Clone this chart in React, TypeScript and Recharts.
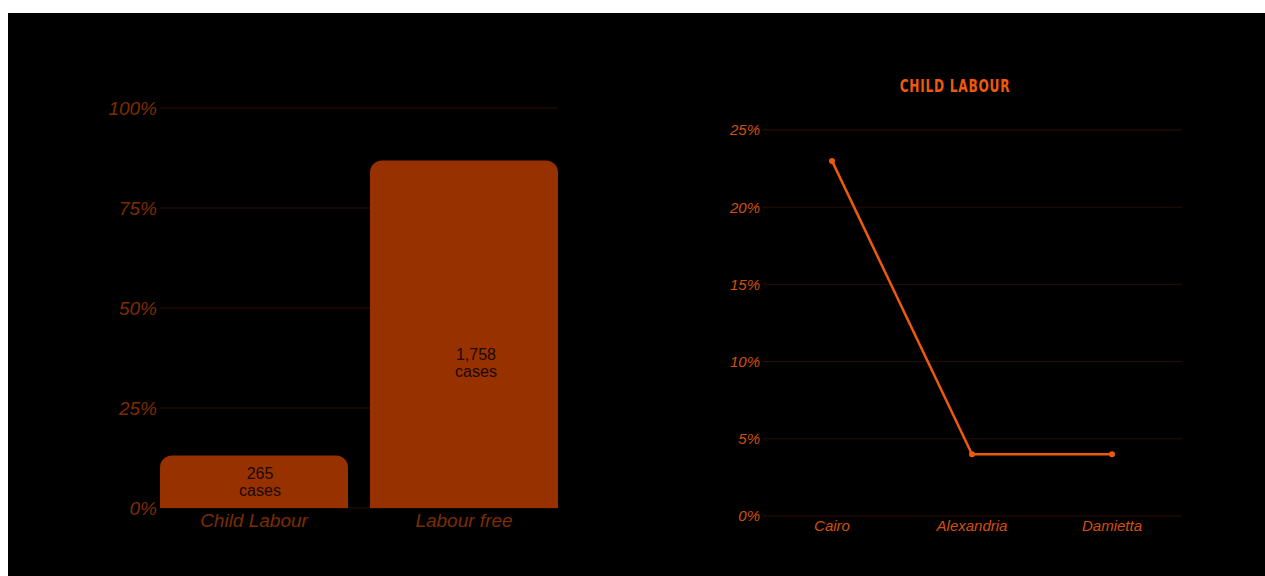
import { BarChart, Bar, ComposedChart, Line, XAxis, YAxis, CartesianGrid, LabelList } from 'recharts';

const labourCategories = ['Child Labour', 'Labour free'];
const labourCases = [265, 1758];
const shareTicks = [0, 25, 50, 75, 100];

const cities = ['Cairo', 'Alexandria', 'Damietta'];
const childLabourRate = [23, 4, 4];
const rateTicks = [0, 5, 10, 15, 20, 25];

const totalCases = labourCases.reduce((a, b) => a + b, 0);
const barData = labourCategories.map((name, i) => ({
  name,
  cases: labourCases[i],
  share: (labourCases[i] / totalCases) * 100,
}));
const lineData = cities.map((city, i) => ({ city, rate: childLabourRate[i] }));

const BAR_FILL = '#973200';
const LEFT_TEXT = '#7d2c00';
const ORANGE = '#ee5a0a';
const RIGHT_TEXT = '#d24f0c';
const SANS = "'Liberation Sans', Arial, sans-serif";

// shortened grid lines so they line up with the bar edges
function TrimmedGridLine(props: any) {
  return (
    <line
      key={props.key}
      x1={props.x1 + 11}
      x2={props.x2 - 11}
      y1={props.y1}
      y2={props.y2}
      stroke="#2a0e02"
      strokeWidth={1}
    />
  );
}

function CasesLabel(props: any) {
  const { x, y, width, height, value, index } = props;
  const cy = y + height - Math.min(height / 2, 145);
  const cx = x + width / 2 + 6 + 6 * index;
  return (
    <text textAnchor="middle" fill="#1c0800" fontSize={16} fontFamily={SANS}>
      <tspan x={cx} y={cy - 3}>{value.toLocaleString('en-US')}</tspan>
      <tspan x={cx} y={cy + 14}>cases</tspan>
    </text>
  );
}

export default function App() {
  return (
    <div
      style={{
        position: 'absolute',
        left: 8,
        top: 13,
        width: 1257,
        height: 563,
        background: '#000',
        overflow: 'hidden',
      }}
    >
      <div style={{ position: 'absolute', left: 0, top: 0 }}>
        <BarChart
          width={570}
          height={527}
          data={barData}
          margin={{ top: 95, right: 9, bottom: 2, left: 0 }}
          barCategoryGap={11}
        >
          <CartesianGrid vertical={false} horizontal={TrimmedGridLine} />
          <XAxis
            dataKey="name"
            axisLine={false}
            tickLine={false}
            tickSize={0}
            tickMargin={6}
            height={30}
            tick={{ fontSize: 19, fill: LEFT_TEXT, fontStyle: 'italic', fontFamily: SANS }}
          />
          <YAxis
            width={141}
            domain={[0, 100]}
            ticks={shareTicks}
            axisLine={false}
            tickLine={false}
            tickSize={0}
            tickMargin={0}
            tickFormatter={(v) => `${v}%`}
            tick={{ fontSize: 19, fill: LEFT_TEXT, fontStyle: 'italic', fontFamily: SANS, dx: 8 }}
          />
          <Bar dataKey="share" fill={BAR_FILL} radius={[12, 12, 0, 0]} isAnimationActive={false}>
            <LabelList dataKey="cases" content={CasesLabel} />
          </Bar>
        </BarChart>
      </div>

      <div
        style={{
          position: 'absolute',
          left: 847,
          top: 62,
          width: 200,
          textAlign: 'center',
          color: ORANGE,
          fontFamily: "'DejaVu Sans Condensed', 'DejaVu Sans', sans-serif",
          fontStretch: 'condensed',
          fontWeight: 'bold',
          fontSize: 18,
          letterSpacing: 1,
          transform: 'scaleX(0.75)',
        }}
      >
        CHILD LABOUR
      </div>

      <div style={{ position: 'absolute', left: 624, top: 0 }}>
        <ComposedChart
          width={560}
          height={540}
          data={lineData}
          margin={{ top: 117, right: 10, bottom: 7, left: 0 }}
        >
          <CartesianGrid vertical={false} stroke="#2a0e04" />
          <XAxis
            dataKey="city"
            axisLine={false}
            tickLine={false}
            tickSize={0}
            tickMargin={4}
            height={30}
            padding={{ left: 70, right: 70 }}
            tick={{ fontSize: 15, fill: RIGHT_TEXT, fontStyle: 'italic', fontFamily: SANS }}
          />
          <YAxis
            width={130}
            domain={[0, 25]}
            ticks={rateTicks}
            axisLine={false}
            tickLine={false}
            tickSize={0}
            tickMargin={2}
            tickFormatter={(v) => `${v}%`}
            tick={{ fontSize: 15, fill: RIGHT_TEXT, fontStyle: 'italic', fontFamily: SANS }}
          />
          <Line
            type="linear"
            dataKey="rate"
            stroke={ORANGE}
            strokeWidth={2.5}
            dot={{ r: 3, fill: ORANGE, stroke: ORANGE, strokeWidth: 0 }}
            isAnimationActive={false}
          />
        </ComposedChart>
      </div>
    </div>
  );
}
